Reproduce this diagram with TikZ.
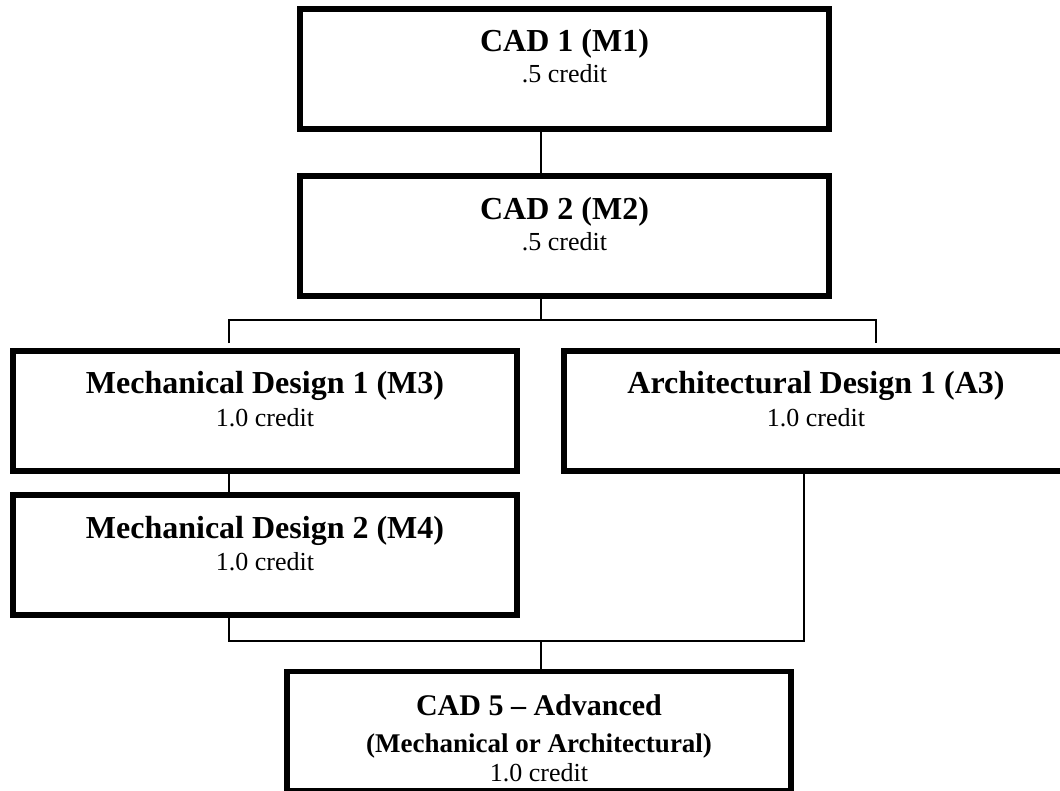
\documentclass[tikz,border=0pt]{standalone}
\usepackage{fontspec}
\setmainfont{Liberation Serif}

\begin{document}
\begin{tikzpicture}[x=0.5pt,y=-0.5pt,
  course/.style={draw,line width=2.75pt,minimum height=60pt,inner sep=0pt},
  title/.style={anchor=base,inner sep=0pt,font=\fontsize{16}{19}\selectfont\bfseries},
  subtitle/.style={anchor=base,inner sep=0pt,font=\fontsize{13.5}{16}\selectfont\bfseries},
  credit/.style={anchor=base,inner sep=0pt,font=\fontsize{13}{15}\selectfont},
  link/.style={line width=0.8pt}]
\useasboundingbox (0,0) rectangle (1060,791);

\node[course,minimum width=264.5pt] (cad1) at (564.5,69) {};
\node[course,minimum width=264.5pt] (cad2) at (564.5,236) {};
\node[course,minimum width=252pt] (m3) at (265,411) {};
\node[course,minimum width=252pt] (a3) at (816,411) {};
\node[course,minimum width=252pt] (m4) at (265,555) {};
\node[course,minimum width=252pt,minimum height=59.75pt] (cad5) at (539,731.25) {};

\node[title] (cad1t) at (564.5,52) {CAD 1 (M1)};
\node[credit] (cad1c) at (564.5,83) {.5 credit};
\node[title] (cad2t) at (564.5,220) {CAD 2 (M2)};
\node[credit] (cad2c) at (564.5,251) {.5 credit};
\node[title] (m3t) at (265,393) {Mechanical Design 1 (M3)};
\node[credit] (m3c) at (265,426) {1.0 credit};
\node[title] (a3t) at (816,393) {Architectural Design 1 (A3)};
\node[credit] (a3c) at (816,426) {1.0 credit};
\node[title] (m4t) at (265,538) {Mechanical Design 2 (M4)};
\node[credit] (m4c) at (265,570) {1.0 credit};
\node[title,font=\fontsize{15}{18}\selectfont\bfseries] (cad5t) at (539,715) {CAD 5 -- Advanced};
\node[subtitle] (cad5s) at (539,752) {(Mechanical or Architectural)};
\node[credit] (cad5c) at (539,781) {1.0 credit};

\coordinate (split) at (541,320);
\coordinate (mleft) at (229,343);
\coordinate (aright) at (876,343);
\coordinate (merge) at (541,641);
\coordinate (mbot) at (229,641);
\coordinate (abot) at (804,641);

\draw[link] (cad1.south -| split) -- (cad2.north -| split);
\draw[link] (cad2.south -| split) -- (split);
\draw[link] (mleft) |- (split) -| (aright);
\draw[link] (m3.south -| mleft) -- (m4.north -| mleft);
\draw[link] (m4.south -| mbot) -- (mbot) -- (merge) -- (abot) -- (a3.south -| abot);
\draw[link] (merge) -- (cad5.north -| merge);
\end{tikzpicture}
\end{document}
